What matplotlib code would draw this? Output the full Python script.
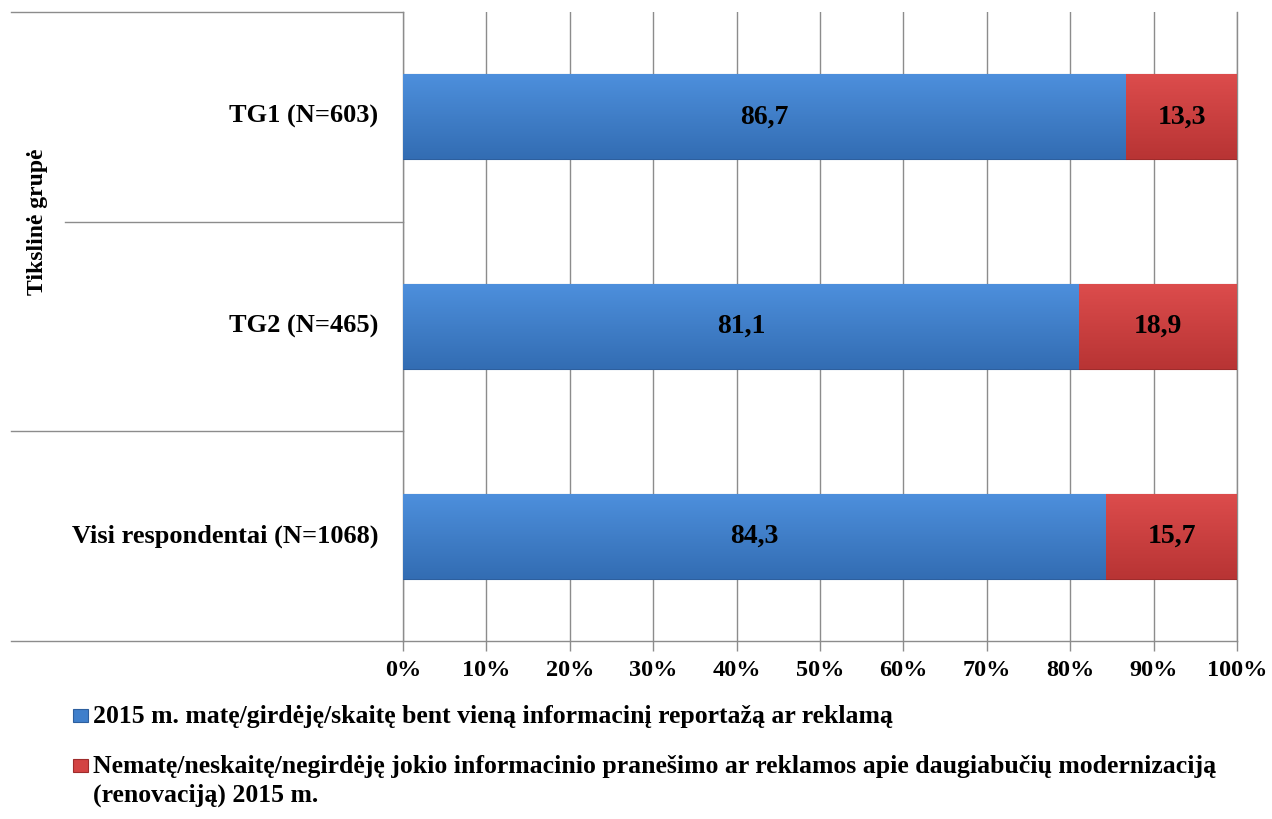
import matplotlib
matplotlib.use("Agg")
import matplotlib.pyplot as plt
import numpy as np
from matplotlib.patches import Rectangle
from matplotlib.colors import LinearSegmentedColormap

categories = ["TG1 (N=603)", "TG2 (N=465)", "Visi respondentai (N=1068)"]
seen = [86.7, 81.1, 84.3]
not_seen = [13.3, 18.9, 15.7]
xticks = [0, 10, 20, 30, 40, 50, 60, 70, 80, 90, 100]
series_labels = [
    "2015 m. matę/girdėję/skaitę bent vieną informacinį reportažą ar reklamą",
    "Nematę/neskaitę/negirdėję jokio informacinio pranešimo ar reklamos apie daugiabučių modernizaciją\n(renovaciją) 2015 m.",
]
axis_label = "Tikslinė grupė"

plt.rcParams['font.family'] = ['Liberation Serif', 'DejaVu Serif']
plt.rcParams['font.weight'] = 'bold'

W, H = 1272, 819
fig = plt.figure(figsize=(W / 100, H / 100), dpi=100)
L, R, T, B = 403, 1237, 12, 641
ax = fig.add_axes([L / W, 1 - B / H, (R - L) / W, (B - T) / H])

blue = "#3f7fcb"
red = "#d34343"
grid_c = "#8c8c8c"

y = np.arange(len(categories))
bh = 0.405
b1 = ax.barh(y, seen, height=bh, color=blue, edgecolor="#2d5f9e", linewidth=0.8, zorder=3)
b2 = ax.barh(y, not_seen, left=seen, height=bh, color=red, edgecolor="#9e2c2c", linewidth=0.8, zorder=3)

# subtle vertical gradient on bars
def shade(bars, top, bot):
    cmap = LinearSegmentedColormap.from_list("g", [top, bot])
    for p in bars:
        x0, y0 = p.get_x(), p.get_y()
        w, h = p.get_width(), p.get_height()
        grad = np.linspace(0, 1, 64).reshape(-1, 1)
        im = ax.imshow(grad, cmap=cmap, aspect="auto", extent=(x0, x0 + w, y0 + h, y0),
                       origin="upper", zorder=3.5)
        im.set_clip_path(p)

shade(b1, "#4d8fdc", "#336db3")
shade(b2, "#dc4c4c", "#b83434")

for bars, vals in [(b1, seen), (b2, not_seen)]:
    for p, v in zip(bars, vals):
        ax.text(p.get_x() + p.get_width() / 2, p.get_y() + p.get_height() / 2, f"{v:.1f}".replace(".", ","),
                ha="center", va="center", fontsize=20, fontweight="bold", color="black", zorder=5)

ax.set_xlim(0, 100)
ax.set_ylim(len(categories) - 0.5, -0.5)
ax.set_xticks(xticks)
ax.set_xticklabels([f"{t}%" for t in xticks], fontsize=17.5, fontweight="bold")
ax.set_yticks([])
ax.grid(axis="x", color=grid_c, linewidth=1, zorder=0)
ax.spines["top"].set_visible(False)
for s in ["left", "bottom", "right"]:
    ax.spines[s].set_color(grid_c)
    ax.spines[s].set_linewidth(1)
ax.tick_params(axis="x", length=7, color=grid_c, width=1, pad=7)

# category labels
for yi, c in zip(y, categories):
    ax.text(-25 / (R - L) * 100, yi, c, ha="right", va="center", fontsize=19, fontweight="bold",
            transform=ax.transData)

# multi-level axis lines
x_far = (11 - L) / (R - L)
x_mid = (65 - L) / (R - L)
trans = ax.get_yaxis_transform()
for yy, xs in [(-0.5, x_far), (1.5, x_far), (2.5, x_far), (0.5, x_mid)]:
    ax.plot([xs, 0], [yy, yy], color=grid_c, lw=1, transform=trans, clip_on=False)
ax.text((38 - L) / (R - L), 0.5, axis_label, rotation=90, ha="center", va="center",
        fontsize=17, fontweight="bold", transform=trans)

# legend (manual)
leg_x = 73
entries = [(723, blue, "#2d5f9e", series_labels[0]), (773, red, "#9e2c2c", series_labels[1])]
for (base, col, ecol, lab) in entries:
    fig.patches.append(Rectangle((leg_x / W, 1 - (base - 1) / H), 15 / W, 13 / H, transform=fig.transFigure,
                                 facecolor=col, edgecolor=ecol, linewidth=0.8))
    for k, line in enumerate(lab.split("\n")):
        fig.text(93 / W, 1 - (base + 29 * k) / H, line, ha="left", va="baseline", fontsize=18.5,
                 fontweight="bold")

fig.savefig("out.png", dpi=100)
